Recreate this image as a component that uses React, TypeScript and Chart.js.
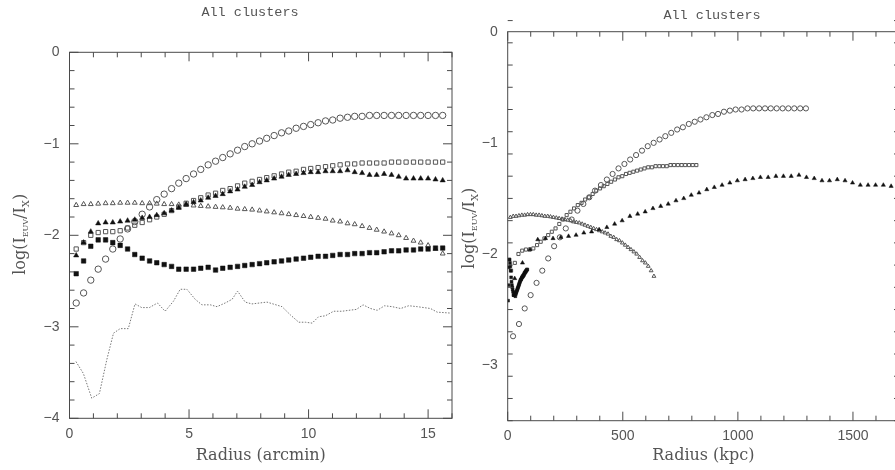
import React, { useEffect, useRef } from "react";
import { Chart, registerables } from "chart.js";

Chart.register(...registerables);

// ---------- data ----------
const RADIUS_ARCMIN = [
  0.28, 0.59, 0.89, 1.2, 1.51, 1.81, 2.12, 2.43, 2.73, 3.04, 3.35,
  3.65, 3.96, 4.27, 4.57, 4.88, 5.19, 5.49, 5.8, 6.11, 6.41,
  6.72, 7.03, 7.33, 7.64, 7.95, 8.25, 8.56, 8.87, 9.17, 9.48,
  9.79, 10.09, 10.4, 10.71, 11.01, 11.32, 11.63, 11.93, 12.24, 12.55,
  12.85, 13.16, 13.47, 13.77, 14.08, 14.39, 14.69, 15.0, 15.31, 15.61,
];

const OPEN_CIRCLES = [
  -2.74, -2.63, -2.49, -2.37, -2.26, -2.15, -2.04, -1.93, -1.85, -1.77,
  -1.69, -1.61, -1.55, -1.49, -1.43, -1.38, -1.33, -1.28, -1.23, -1.19,
  -1.15, -1.11, -1.07, -1.03, -1.0, -0.97, -0.94, -0.91, -0.88, -0.86,
  -0.83, -0.81, -0.79, -0.77, -0.75, -0.74, -0.72, -0.71, -0.7, -0.7,
  -0.69, -0.69, -0.69, -0.69, -0.69, -0.69, -0.69, -0.69, -0.69, -0.69, -0.69,
];

const OPEN_SQUARES = [
  -2.15, -2.08, -2.0, -1.97, -1.96, -1.96, -1.95, -1.92, -1.89, -1.86,
  -1.83, -1.8, -1.77, -1.73, -1.69, -1.65, -1.62, -1.59, -1.56, -1.54,
  -1.51, -1.49, -1.46, -1.43, -1.41, -1.39, -1.37, -1.35, -1.33, -1.31,
  -1.3, -1.28, -1.27, -1.26, -1.25, -1.24, -1.23, -1.22, -1.22, -1.21,
  -1.21, -1.21, -1.21, -1.2, -1.2, -1.2, -1.2, -1.2, -1.2, -1.2, -1.2,
];

const FILLED_TRIANGLES = [
  -2.22, -2.08, -1.96, -1.87, -1.86, -1.86, -1.85, -1.84, -1.83, -1.81,
  -1.8, -1.78, -1.76, -1.73, -1.7, -1.66, -1.64, -1.62, -1.59, -1.57,
  -1.55, -1.52, -1.5, -1.47, -1.45, -1.42, -1.4, -1.38, -1.36, -1.34,
  -1.33, -1.32, -1.31, -1.31, -1.3, -1.3, -1.3, -1.29, -1.31, -1.32,
  -1.34, -1.34, -1.33, -1.34, -1.36, -1.38, -1.38, -1.38, -1.38, -1.39, -1.4,
];

const OPEN_TRIANGLES = [
  -1.67, -1.66, -1.66, -1.655, -1.65, -1.65, -1.645, -1.645, -1.645, -1.65,
  -1.65, -1.655, -1.66, -1.66, -1.665, -1.67, -1.675, -1.68, -1.685, -1.69,
  -1.695, -1.7, -1.71, -1.715, -1.72, -1.73, -1.74, -1.75, -1.76, -1.77,
  -1.78, -1.79, -1.8, -1.81, -1.82, -1.84, -1.85, -1.87, -1.88, -1.9,
  -1.92, -1.94, -1.96, -1.98, -2.0, -2.03, -2.06, -2.08, -2.11, -2.15, -2.2,
];

const FILLED_SQUARES = [
  -2.42, -2.28, -2.12, -2.05, -2.05, -2.08, -2.11, -2.15, -2.21, -2.25,
  -2.28, -2.3, -2.32, -2.34, -2.37, -2.37, -2.37, -2.36, -2.35, -2.38,
  -2.36, -2.35, -2.34, -2.33, -2.32, -2.31, -2.3, -2.29, -2.28, -2.27,
  -2.26, -2.25, -2.24, -2.23, -2.23, -2.22, -2.21, -2.21, -2.2, -2.2,
  -2.19, -2.19, -2.18, -2.17, -2.17, -2.16, -2.16, -2.15, -2.15, -2.14, -2.14,
];

const DOTTED_X = [
  0.27, 0.58, 0.93, 1.25, 1.56, 1.84, 2.12, 2.46, 2.74, 3.02, 3.34, 3.68, 4.0,
  4.35, 4.63, 4.91, 5.26, 5.54, 5.89, 6.17, 6.51, 6.8, 7.03, 7.35, 7.63, 8.26,
  8.89, 9.24, 9.59, 9.87, 10.15, 10.42, 10.7, 11.05, 11.4, 11.68, 12.0, 12.28,
  12.59, 12.87, 13.18, 13.5, 13.85, 14.19, 14.55, 14.82, 15.1, 15.38, 15.94,
];
const DOTTED_Y = [
  -3.38, -3.51, -3.78, -3.73, -3.36, -3.07, -3.02, -3.02, -2.75, -2.79, -2.79, -2.74, -2.83,
  -2.72, -2.59, -2.59, -2.7, -2.76, -2.76, -2.78, -2.74, -2.7, -2.61, -2.73, -2.75, -2.73,
  -2.78, -2.87, -2.95, -2.95, -2.96, -2.89, -2.88, -2.83, -2.83, -2.82, -2.81, -2.76,
  -2.8, -2.82, -2.77, -2.78, -2.8, -2.77, -2.78, -2.79, -2.8, -2.84, -2.85,
];

// kpc per arcmin for each cluster (distance scale)
const KPC_PER_ARCMIN_CIRCLES = 83;
const KPC_PER_ARCMIN_OPEN_SQUARES = 52.5;
const KPC_PER_ARCMIN_FILLED_TRIANGLES = 108.8;
const KPC_PER_ARCMIN_OPEN_TRIANGLES = 40.7;
const KPC_PER_ARCMIN_FILLED_SQUARES = 5.45;

const LEFT_X_TICKS = [0, 5, 10, 15];
const LEFT_Y_TICKS = [0, -1, -2, -3, -4];
const RIGHT_X_TICKS = [0, 500, 1000, 1500];
const RIGHT_Y_TICKS = [0, -1, -2, -3];

const TITLE = "All clusters";
const LEFT_X_TITLE = "Radius (arcmin)";
const RIGHT_X_TITLE = "Radius (kpc)";

// ---------- helpers ----------
const TEXT = "#555";
const FRAME = "#4a4a4a";
const OPEN = "#555";
const FILLED = "#111";

const fmt = (v: number) => (v < 0 ? "\u2212" + Math.abs(v) : String(v));

const pts = (xs: number[], ys: number[], k = 1) => ys.map((y, i) => ({ x: xs[i] * k, y }));

function marker(data: any[], style: string, filled: boolean, r: number) {
  return {
    data,
    showLine: false,
    pointStyle: style,
    pointRadius: r,
    pointBackgroundColor: filled ? FILLED : "rgba(0,0,0,0)",
    pointBorderColor: filled ? FILLED : OPEN,
    pointBorderWidth: filled ? 0.5 : 1,
  };
}

function drawYTitle(ctx: CanvasRenderingContext2D, x: number, y: number) {
  const parts = [
    { t: "log(I", s: 16, dy: 0 },
    { t: "EUV", s: 8, dy: 3 },
    { t: "/I", s: 16, dy: 0 },
    { t: "X", s: 10, dy: 4 },
    { t: ")", s: 16, dy: 0 },
  ];
  ctx.save();
  ctx.translate(x, y);
  ctx.rotate(-Math.PI / 2);
  ctx.fillStyle = TEXT;
  ctx.textBaseline = "alphabetic";
  ctx.textAlign = "left";
  let total = 0;
  for (const p of parts) {
    ctx.font = `${p.s}px "DejaVu Serif"`;
    total += ctx.measureText(p.t).width;
  }
  let cur = -total / 2;
  for (const p of parts) {
    ctx.font = `${p.s}px "DejaVu Serif"`;
    ctx.fillText(p.t, cur, p.dy);
    cur += ctx.measureText(p.t).width;
  }
  ctx.restore();
}

function decorPlugin(o: any) {
  return {
    id: "decor",
    afterDatasetsDraw(chart: any) {
      const { ctx, chartArea } = chart;
      const { left, right, top, bottom } = chartArea;
      const xs = chart.scales.x;
      const ys = chart.scales.y;
      ctx.save();
      ctx.strokeStyle = FRAME;
      ctx.lineWidth = 1;
      ctx.strokeRect(left, top, right - left, bottom - top);
      ctx.beginPath();
      const nx = Math.round((xs.max - xs.min) / o.xMinor);
      for (let k = 0; k <= nx; k++) {
        const v = xs.min + k * o.xMinor;
        const major = Math.abs(v / o.xMajor - Math.round(v / o.xMajor)) < 1e-6;
        const len = major ? o.majorLen : o.minorLen;
        const p = xs.getPixelForValue(v);
        ctx.moveTo(p, bottom);
        ctx.lineTo(p, bottom - len);
        ctx.moveTo(p, top);
        ctx.lineTo(p, top + len);
      }
      const ny = Math.round((ys.max - ys.min) / o.yMinor);
      for (let k = 0; k <= ny; k++) {
        const v = ys.min + k * o.yMinor;
        const major = Math.abs(v / o.yMajor - Math.round(v / o.yMajor)) < 1e-6;
        const len = major ? o.majorLen : o.minorLen;
        const p = ys.getPixelForValue(v);
        ctx.moveTo(left, p);
        ctx.lineTo(left + len, p);
        ctx.moveTo(right, p);
        ctx.lineTo(right - len, p);
      }
      ctx.stroke();
      ctx.restore();
    },
    afterDraw(chart: any) {
      const { ctx, chartArea } = chart;
      const cx = (chartArea.left + chartArea.right) / 2;
      ctx.save();
      ctx.fillStyle = TEXT;
      ctx.textAlign = "center";
      ctx.textBaseline = "alphabetic";
      ctx.font = `13.5px "Liberation Mono"`;
      ctx.fillText(o.title, o.titleX, o.titleY);
      ctx.font = `16px "DejaVu Serif"`;
      ctx.fillText(o.xTitle, cx, o.xTitleY);
      ctx.restore();
      drawYTitle(ctx, o.yTitleX, (chartArea.top + chartArea.bottom) / 2 + o.yTitleDy);
    },
  };
}

function makeConfig(o: any) {
  const tickFont = { family: "Liberation Sans", size: 14 };
  return {
    type: "scatter",
    data: { datasets: o.datasets },
    options: {
      responsive: false,
      animation: false,
      events: [],
      layout: { padding: o.padding },
      plugins: { legend: { display: false }, tooltip: { enabled: false }, title: { display: false } },
      scales: {
        x: {
          type: "linear",
          min: o.xMin,
          max: o.xMax,
          grid: { display: false, drawTicks: false },
          border: { display: false },
          ticks: { color: TEXT, font: tickFont, padding: 7, maxRotation: 0, autoSkip: false, callback: (v: number) => fmt(v) },
          afterBuildTicks: (s: any) => {
            s.ticks = o.xTicks.map((value: number) => ({ value }));
          },
          afterFit: (s: any) => {
            s.height = o.xHeight;
          },
        },
        y: {
          type: "linear",
          min: o.yMin,
          max: o.yMax,
          grid: { display: false, drawTicks: false },
          border: { display: false },
          ticks: { color: TEXT, font: tickFont, padding: 10, autoSkip: false, callback: (v: number) => fmt(v) },
          afterBuildTicks: (s: any) => {
            s.ticks = o.yTicks.map((value: number) => ({ value }));
          },
          afterFit: (s: any) => {
            s.width = o.yWidth;
          },
        },
      },
    },
    plugins: [decorPlugin(o.decor)],
  };
}

function ChartCanvas({ config, left, width, height }: any) {
  const ref = useRef<HTMLCanvasElement>(null);
  useEffect(() => {
    const chart = new Chart(ref.current as HTMLCanvasElement, config);
    return () => chart.destroy();
  }, []);
  return (
    <canvas
      ref={ref}
      width={width}
      height={height}
      style={{ position: "absolute", left, top: 0, width, height, display: "block" }}
    />
  );
}

export default function App() {
  const leftConfig = makeConfig({
    xMin: 0,
    xMax: 16,
    yMin: -4,
    yMax: 0,
    xTicks: LEFT_X_TICKS,
    yTicks: LEFT_Y_TICKS,
    padding: { left: 0, top: 52.3, right: 8, bottom: 0 },
    xHeight: 51.7,
    yWidth: 69.5,
    datasets: [
      {
        data: pts(DOTTED_X, DOTTED_Y),
        showLine: true,
        pointRadius: 0,
        borderColor: "#777",
        borderWidth: 1,
        borderDash: [1.5, 1.5],
        tension: 0,
      },
      marker(pts(RADIUS_ARCMIN, FILLED_SQUARES), "rect", true, 3.2),
      marker(pts(RADIUS_ARCMIN, FILLED_TRIANGLES), "triangle", true, 3),
      marker(pts(RADIUS_ARCMIN, OPEN_TRIANGLES), "triangle", false, 2.8),
      marker(pts(RADIUS_ARCMIN, OPEN_SQUARES), "rect", false, 3),
      marker(pts(RADIUS_ARCMIN, OPEN_CIRCLES), "circle", false, 3.2),
    ],
    decor: {
      xMinor: 1,
      xMajor: 5,
      yMinor: 0.2,
      yMajor: 1,
      majorLen: 9,
      minorLen: 5,
      title: TITLE,
      titleX: 250,
      titleY: 15.5,
      xTitle: LEFT_X_TITLE,
      xTitleY: 460,
      yTitleX: 25,
      yTitleDy: -1,
    },
  });

  const rightConfig = makeConfig({
    xMin: 0,
    xMax: 1700,
    yMin: -3.5,
    yMax: 0,
    xTicks: RIGHT_X_TICKS,
    yTicks: RIGHT_Y_TICKS,
    padding: { left: 0, top: 31.7, right: 21, bottom: 0 },
    xHeight: 49.3,
    yWidth: 47.7,
    datasets: [
      marker(pts(RADIUS_ARCMIN, FILLED_SQUARES, KPC_PER_ARCMIN_FILLED_SQUARES), "rect", true, 2),
      marker(pts(RADIUS_ARCMIN, FILLED_TRIANGLES, KPC_PER_ARCMIN_FILLED_TRIANGLES), "triangle", true, 2.4),
      marker(pts(RADIUS_ARCMIN, OPEN_TRIANGLES, KPC_PER_ARCMIN_OPEN_TRIANGLES), "triangle", false, 2.2),
      marker(pts(RADIUS_ARCMIN, OPEN_SQUARES, KPC_PER_ARCMIN_OPEN_SQUARES), "rect", false, 2.2),
      marker(pts(RADIUS_ARCMIN, OPEN_CIRCLES, KPC_PER_ARCMIN_CIRCLES), "circle", false, 2.6),
    ],
    decor: {
      xMinor: 100,
      xMajor: 500,
      yMinor: 0.2,
      yMajor: 1,
      majorLen: 9,
      minorLen: 5,
      title: TITLE,
      titleX: 252,
      titleY: 18.5,
      xTitle: RIGHT_X_TITLE,
      xTitleY: 460,
      yTitleX: 14,
      yTitleDy: 2,
    },
  });

  return (
    <div
      style={{
        position: "fixed",
        left: 0,
        top: 0,
        width: 895,
        height: 470,
        overflow: "hidden",
        background: "#fff",
      }}
    >
      <ChartCanvas config={leftConfig} left={0} width={460} height={470} />
      <ChartCanvas config={rightConfig} left={460} width={460} height={470} />
    </div>
  );
}
